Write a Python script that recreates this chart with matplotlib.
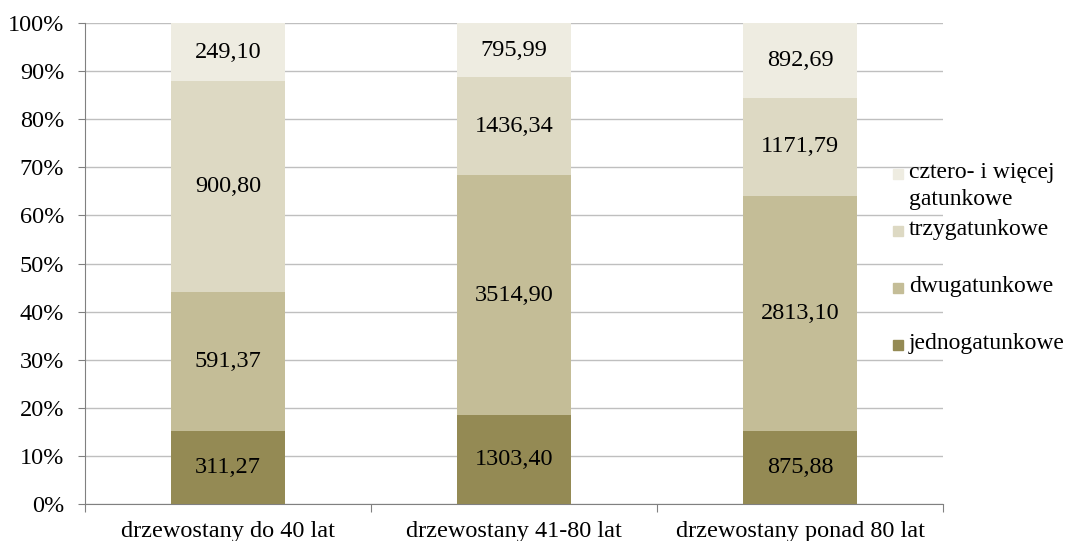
import matplotlib
matplotlib.use("Agg")
import matplotlib.pyplot as plt
import numpy as np
from matplotlib.patches import Rectangle

plt.rcParams['font.family'] = ['Liberation Serif', 'DejaVu Serif']

categories = ["drzewostany do 40 lat", "drzewostany 41-80 lat", "drzewostany ponad 80 lat"]
series_names = ["jednogatunkowe", "dwugatunkowe", "trzygatunkowe", "cztero- i więcej\ngatunkowe"]
jednogatunkowe = [311.27, 1303.40, 875.88]
dwugatunkowe = [591.37, 3514.90, 2813.10]
trzygatunkowe = [900.80, 1436.34, 1171.79]
cztero = [249.10, 795.99, 892.69]
colors = ["#948A54", "#C4BD97", "#DDD9C3", "#EEECE1"]

data = np.array([jednogatunkowe, dwugatunkowe, trzygatunkowe, cztero])
totals = data.sum(axis=0)
pct = data / totals * 100

FS = 17.5
fig = plt.figure(figsize=(10.67, 5.41), dpi=100)
ax = fig.add_axes([85/1067, 1-504/541, (943-85)/1067, (504-23)/541])

x = np.arange(len(categories))
bottom = np.zeros(len(categories))
for i in range(len(series_names)):
    ax.bar(x, pct[i], bottom=bottom, width=0.4, color=colors[i], zorder=3)
    for j in range(len(categories)):
        ax.text(x[j], bottom[j] + pct[i][j] / 2, f"{data[i][j]:.2f}".replace('.', ','),
                ha='center', va='center', fontsize=FS, color='black', zorder=4)
    bottom += pct[i]

ax.set_xlim(-0.5, len(categories) - 0.5)
ax.set_ylim(0, 100)
ax.set_yticks(np.arange(0, 101, 10))
ax.set_yticklabels([f"{v}%" for v in range(0, 101, 10)], fontsize=FS)
ax.yaxis.grid(True, color='#BFBFBF', linewidth=1, zorder=0)
ax.set_axisbelow(True)

ax.set_xticks([-0.5, 0.5, 1.5, 2.5])
ax.set_xticklabels([])
ax.set_xticks(x, minor=True)
ax.set_xticklabels(categories, minor=True, fontsize=FS)
ax.tick_params(axis='x', which='minor', length=0, pad=12)
ax.tick_params(axis='x', which='major', length=6, color='#808080')
ax.tick_params(axis='y', length=5, color='#808080', pad=10)

for s in ['top', 'right']:
    ax.spines[s].set_visible(False)
for s in ['left', 'bottom']:
    ax.spines[s].set_color('#808080')

# legend (reversed order)
leg_items = [(3, 174), (2, 231), (1, 288), (0, 345)]
for idx, ypx in leg_items:
    fig.patches.append(Rectangle((893/1067, 1-(ypx+5)/541), 10/1067, 10/541,
                                 transform=fig.transFigure, color=colors[idx]))
    fig.text(909/1067, 1-(ypx - 12)/541,
             series_names[idx], fontsize=17, va='top', ha='left',
             linespacing=1.4)

fig.savefig("out.png", dpi=100)
